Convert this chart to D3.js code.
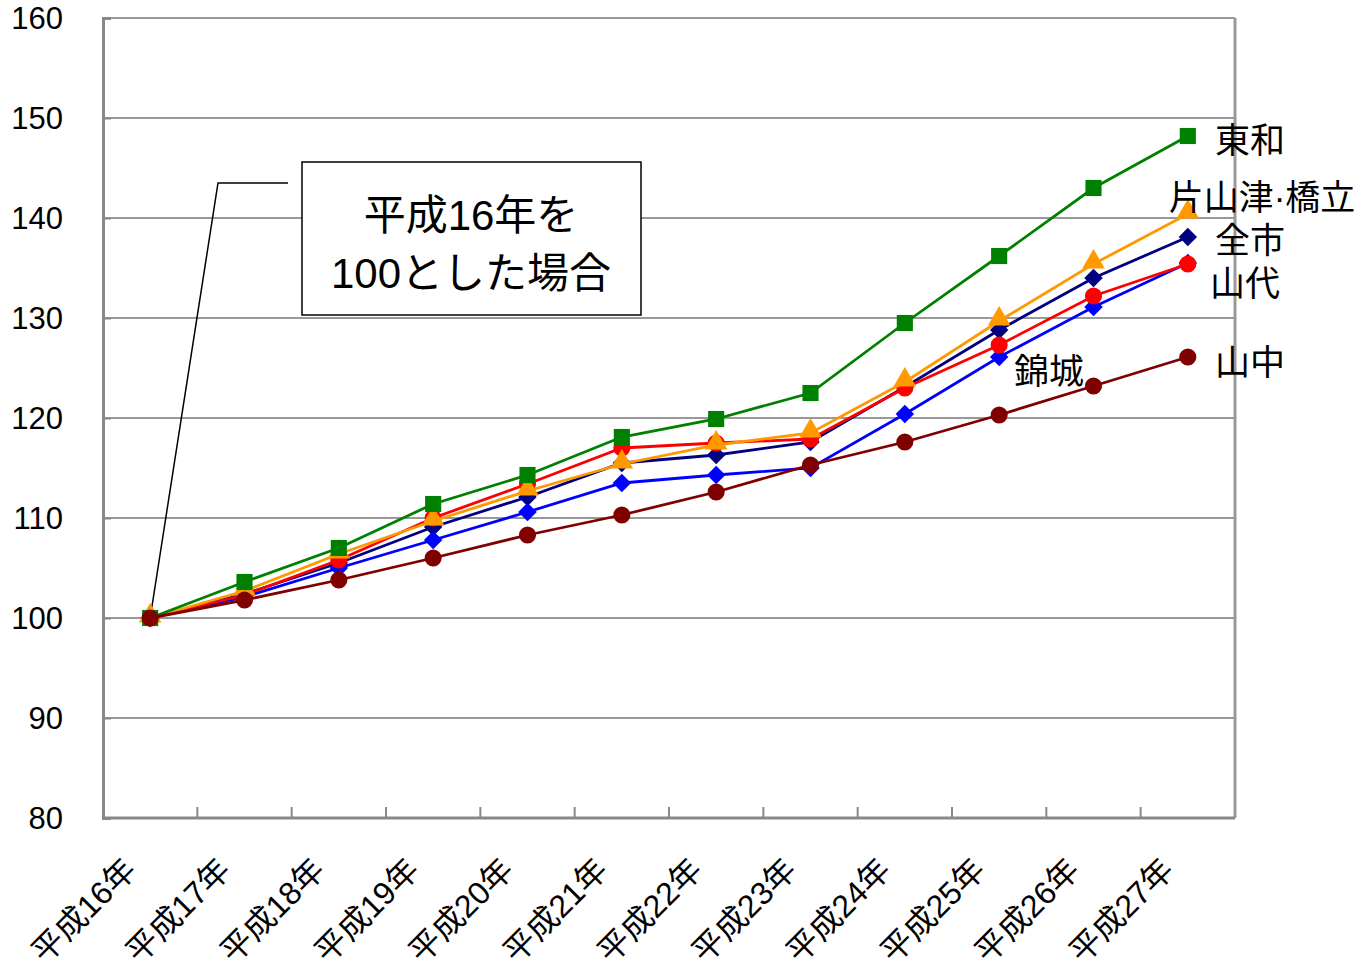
<!DOCTYPE html>
<html>
<head>
<meta charset="utf-8">
<title>平成16年を100とした場合</title>
<script src="https://d3js.org/d3.v7.min.js"></script>
<style>
  body { margin: 0; background: #fff; }
  text { font-family: "Liberation Sans", Arial, "Noto Sans CJK JP", sans-serif; }
</style>
</head>
<body>
<script>
// categories and series values
var years = ["平成16年", "平成17年", "平成18年", "平成19年", "平成20年", "平成21年",
             "平成22年", "平成23年", "平成24年", "平成25年", "平成26年", "平成27年"];
var zenshi   = [100, 102.4, 105.5, 109.1, 112.1, 115.5, 116.3, 117.6, 123.1, 128.8, 134.0, 138.1];
var kinjo    = [100, 102.1, 105.0, 107.8, 110.6, 113.5, 114.3, 115.0, 120.4, 126.1, 131.1, 135.5];
var yamashiro= [100, 102.3, 105.8, 110.0, 113.4, 117.0, 117.5, 117.9, 123.0, 127.3, 132.2, 135.4];
var katayamazu=[100, 102.7, 106.4, 109.7, 112.7, 115.4, 117.3, 118.5, 123.6, 129.7, 135.4, 140.4];
var towa     = [100, 103.6, 107.0, 111.4, 114.3, 118.1, 119.9, 122.5, 129.5, 136.2, 143.0, 148.2];
var yamanaka = [100, 101.8, 103.8, 106.0, 108.3, 110.3, 112.6, 115.3, 117.6, 120.3, 123.2, 126.1];
var yTicks = [80, 90, 100, 110, 120, 130, 140, 150, 160];

// "diamond" = square turned 45deg
var series = [
  {name: "全市", values: zenshi, color: "#000080", shape: d3.symbolSquare, rot: 45, size: 170},
  {name: "錦城", values: kinjo, color: "#0000FF", shape: d3.symbolSquare, rot: 45, size: 170},
  {name: "山代", values: yamashiro, color: "#FF0000", shape: d3.symbolCircle, rot: 0, size: 230},
  {name: "片山津·橋立", values: katayamazu, color: "#FF9900", shape: d3.symbolTriangle, rot: 0, size: 220},
  {name: "東和", values: towa, color: "#008000", shape: d3.symbolSquare, rot: 0, size: 260},
  {name: "山中", values: yamanaka, color: "#800000", shape: d3.symbolCircle, rot: 0, size: 230}
];

// end labels: [text, x, y]
var labels = [
  ["東和", 1250, 141],
  ["片山津·橋立", 1262, 198],
  ["全市", 1250, 241],
  ["山代", 1245, 284],
  ["山中", 1250, 363],
  ["錦城", 1049, 372]
];

var W = 1361, H = 971;
var mLeft = 103, mRight = 1235, mTop = 18, mBottom = 818;

var svg = d3.select("body").append("svg").attr("width", W).attr("height", H);

var x = d3.scaleBand().domain(years).range([mLeft, mRight]);
var y = d3.scaleLinear().domain([80, 160]).range([mBottom, mTop]);

// gridlines
svg.append("g").selectAll("line").data(yTicks.slice(1)).enter().append("line")
  .attr("x1", mLeft).attr("x2", mRight)
  .attr("y1", function(d) { return y(d); }).attr("y2", function(d) { return y(d); })
  .attr("stroke", "#333").attr("stroke-width", 1);

// right border
svg.append("line").attr("x1", mRight).attr("x2", mRight).attr("y1", mTop).attr("y2", mBottom)
  .attr("stroke", "#999").attr("stroke-width", 3);

// y axis
var yAxis = d3.axisLeft(y).tickValues(yTicks).tickSize(-8).tickPadding(40);
var gy = svg.append("g").attr("transform", "translate(" + mLeft + ",0)").call(yAxis);
gy.select(".domain").attr("stroke", "#888").attr("stroke-width", 3);
gy.selectAll(".tick line").attr("stroke", "#888").attr("stroke-width", 2);
gy.selectAll("text").attr("font-size", 31).attr("fill", "#000")
  .attr("x", -40).attr("text-anchor", "end").attr("dy", "0.35em");

// x axis
var gx = svg.append("g").attr("transform", "translate(0," + mBottom + ")");
gx.append("line").attr("x1", mLeft).attr("x2", mRight).attr("y1", 0).attr("y2", 0)
  .attr("stroke", "#888").attr("stroke-width", 3);
gx.selectAll("line.tk").data(years.slice(1)).enter().append("line").attr("class", "tk")
  .attr("x1", function(d) { return x(d); }).attr("x2", function(d) { return x(d); })
  .attr("y1", 0).attr("y2", -11).attr("stroke", "#888").attr("stroke-width", 2);
gx.selectAll("text").data(years).enter().append("text")
  .attr("transform", function(d) {
    return "translate(" + (x(d) + x.bandwidth() / 2 - 20) + ",46) rotate(-45)";
  })
  .attr("text-anchor", "end").attr("dy", "0.35em")
  .attr("font-size", 32).text(function(d) { return d; });

// leader line and annotation box
svg.append("polyline")
  .attr("points", [[x(years[0]) + x.bandwidth() / 2, y(100)], [218, 183], [288, 183]].join(" "))
  .attr("fill", "none").attr("stroke", "#000").attr("stroke-width", 1.5);
svg.append("rect").attr("x", 302).attr("y", 162).attr("width", 339).attr("height", 153)
  .attr("fill", "#fff").attr("stroke", "#000").attr("stroke-width", 1.5);
svg.append("text").attr("x", 471).attr("y", 230).attr("text-anchor", "middle")
  .attr("font-size", 42).text("平成16年を");
svg.append("text").attr("x", 471).attr("y", 288).attr("text-anchor", "middle")
  .attr("font-size", 42).text("100とした場合");

// lines and markers
var line = d3.line()
  .x(function(d, i) { return x(years[i]) + x.bandwidth() / 2; })
  .y(function(d) { return y(d); });

series.forEach(function(s) {
  var g = svg.append("g");
  g.append("path").datum(s.values).attr("d", line)
    .attr("fill", "none").attr("stroke", s.color).attr("stroke-width", 2.8);
  g.selectAll("path.m").data(s.values).enter().append("path").attr("class", "m")
    .attr("d", d3.symbol().type(s.shape).size(s.size))
    .attr("transform", function(d, i) {
      var sy = s.shape === d3.symbolTriangle ? y(d) - 2 : y(d);
      return "translate(" + (x(years[i]) + x.bandwidth() / 2) + "," + sy + ") rotate(" + s.rot + ")";
    })
    .attr("fill", s.color);
});

// series labels
svg.append("g").selectAll("text").data(labels).enter().append("text")
  .attr("x", function(d) { return d[1]; }).attr("y", function(d) { return d[2]; })
  .attr("dy", "0.35em").attr("text-anchor", "middle")
  .attr("font-size", 35).text(function(d) { return d[0]; });
</script>
</body>
</html>
